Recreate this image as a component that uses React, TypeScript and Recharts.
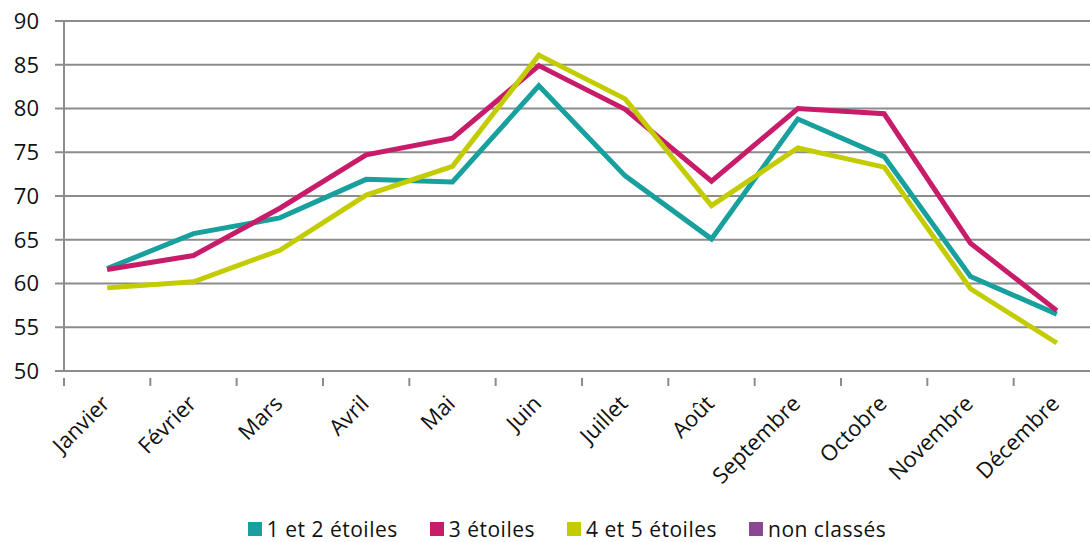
import { LineChart, Line, XAxis, YAxis, CartesianGrid, Legend } from "recharts";

const months = ["Janvier", "Février", "Mars", "Avril", "Mai", "Juin", "Juillet", "Août", "Septembre", "Octobre", "Novembre", "Décembre"];
const etoiles12 = [61.7, 65.7, 67.5, 71.9, 71.6, 82.6, 72.3, 65.1, 78.8, 74.5, 60.8, 56.5];
const etoiles3 = [61.6, 63.2, 68.6, 74.7, 76.6, 84.9, 79.9, 71.7, 80.0, 79.4, 64.6, 56.9];
const etoiles45 = [59.5, 60.2, 63.8, 70.1, 73.4, 86.1, 81.1, 68.9, 75.5, 73.3, 59.4, 53.2];
const yTicks = [50, 55, 60, 65, 70, 75, 80, 85, 90];

const SERIES = [
  { key: "e12", name: "1 et 2 étoiles", color: "#17A09E" },
  { key: "e3", name: "3 étoiles", color: "#C81C6A" },
  { key: "e45", name: "4 et 5 étoiles", color: "#C2CC00" },
  { key: "nc", name: "non classés", color: "#8B4791" },
];

const data = months.map((m, i) => ({
  x: i + 0.5,
  month: m,
  e12: etoiles12[i],
  e3: etoiles3[i],
  e45: etoiles45[i],
  nc: null,
}));

const FONT = "'Open Sans', sans-serif";
const CHART_W = 1100;
const Y_W = 64;
const HALF_BAND = (CHART_W - Y_W) / 12 / 2;

// label at the category centre, tick marks at the category edges
const MonthTick = ({ x, y, payload, index }: any) => {
  const label = months[Math.floor(payload.value)];
  const ax = x + 4;
  const ay = y + 26;
  return (
    <g>
      <line x1={x - HALF_BAND} x2={x - HALF_BAND} y1={y - 1} y2={y + 7} stroke="#8c8c8c" strokeWidth={2} />
      {index === 11 && (
        <line x1={x + HALF_BAND} x2={x + HALF_BAND} y1={y - 1} y2={y + 7} stroke="#8c8c8c" strokeWidth={2} />
      )}
      <text x={ax} y={ay} textAnchor="end" transform={`rotate(-45, ${ax}, ${ay})`} fontSize={22} fill="#111" fontFamily={FONT}>
        {label}
      </text>
    </g>
  );
};

const LegendBox = () => (
  <div style={{ display: "flex", justifyContent: "center", fontFamily: FONT, fontSize: 21, lineHeight: "24px", letterSpacing: 0.5, color: "#111", paddingTop: 16, paddingLeft: 34 }}>
    {SERIES.map((s, i) => (
      <div key={s.key} style={{ display: "flex", alignItems: "center", marginRight: i < SERIES.length - 1 ? 32 : 0 }}>
        <span style={{ width: 14, height: 14, background: s.color, display: "inline-block", marginRight: 5 }} />
        <span>{s.name}</span>
      </div>
    ))}
  </div>
);

export default function App() {
  return (
    <div style={{ position: "absolute", left: 0, top: 0, width: CHART_W, height: 542, background: "#fff" }}>
      <LineChart width={CHART_W} height={542} data={data} margin={{ top: 21, right: 0, left: 0, bottom: 0 }}>
        <CartesianGrid vertical={false} stroke="#8c8c8c" strokeWidth={2} />
        <XAxis
          dataKey="x"
          type="number"
          domain={[0, 12]}
          ticks={data.map((d) => d.x)}
          tick={<MonthTick />}
          tickLine={false}
          stroke="#8c8c8c"
          strokeWidth={2}
          height={130}
          interval={0}
        />
        <YAxis
          domain={[50, 90]}
          ticks={yTicks}
          width={Y_W}
          tickSize={9}
          tickMargin={16}
          stroke="#8c8c8c"
          strokeWidth={2}
          tick={{ fontSize: 22, fill: "#111", fontFamily: FONT }}
          interval={0}
        />
        <Legend verticalAlign="bottom" height={41} content={<LegendBox />} />
        {SERIES.map((s) => (
          <Line
            key={s.key}
            dataKey={s.key}
            name={s.name}
            stroke={s.color}
            strokeWidth={5}
            dot={false}
            isAnimationActive={false}
            type="linear"
          />
        ))}
      </LineChart>
    </div>
  );
}
